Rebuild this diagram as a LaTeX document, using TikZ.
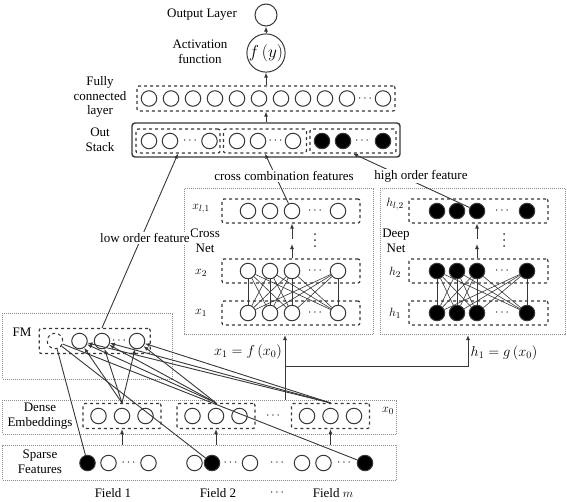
\documentclass[tikz,border=0pt]{standalone}
\usepackage{fontspec}
\setmainfont{Liberation Serif}
\usetikzlibrary{arrows.meta,positioning}
\definecolor{linegray}{RGB}{55,55,55}
\definecolor{bandgray}{RGB}{140,140,140}

\begin{document}
\begin{tikzpicture}[x=1pt, y=-1pt, font=\fontsize{13}{14.5}\selectfont,
        neuron/.style={draw=linegray, line width=1pt, circle, minimum size=15.5pt, inner sep=0pt},
        fneuron/.style={neuron, fill=black},
        layerbox/.style={draw=linegray, line width=1.2pt, dashed, rounded corners=2pt, inner sep=0pt},
        band/.style={draw=bandgray, densely dotted, line width=1pt, inner sep=0pt},
        link/.style={draw=linegray, line width=0.9pt},
        thinlink/.style={draw=linegray, line width=0.6pt},
        arr/.style={link, -{Latex[length=5pt,width=4pt]}}
    ]
        \useasboundingbox (0,0) rectangle (567,501);

        % 1. Output and activation
        \node[neuron, minimum size=22pt] (outy) at (266,15) {};
        \node (outlbl) at (202,15) {Output Layer};
        \node[neuron, minimum size=34pt, font=\fontsize{16}{18}\selectfont] (act) at (266,53) {$f\left(y\right)$};
        \node[align=center] (actlbl) at (200,52) {Activation\\function};
        \draw[arr] (act) -- (outy);

        % 2. Fully connected layer
        \node[layerbox, minimum width=258pt, minimum height=25pt] (fc) at (266,98.5) {};
        \foreach \x [count=\i] in {149,171,193,215,237,259,281,303,325,347,383}
            \node[neuron] (fc-\i) at (\x,98.5) {};
        \node (fc-dots) at (365,98.5) {$\cdots$};
        \node[align=center] (fclbl) at (100,97) {Fully\\connected\\layer};
        \draw[arr] (fc) -- (act);

        % 3. Out stack
        \node[draw=linegray, line width=1.4pt, rounded corners=3pt, minimum width=268pt, minimum height=34pt] (outstack) at (266,140) {};
        \node[align=center] (oslbl) at (100,140) {Out\\Stack};
        \node[layerbox, minimum width=84pt, minimum height=24pt] (os1) at (178,141) {};
        \node[layerbox, minimum width=83pt, minimum height=24pt] (os2) at (265,141) {};
        \node[layerbox, minimum width=86pt, minimum height=24pt] (os3) at (353,141) {};
        \foreach \x [count=\i] in {149,170,209.5}
            \node[neuron] (osa-\i) at (\x,141) {};
        \foreach \x [count=\i] in {237,258,293}
            \node[neuron] (osb-\i) at (\x,141) {};
        \foreach \x [count=\i] in {322,343,383}
            \node[fneuron] (osc-\i) at (\x,141) {};
        \node (osa-dots) at (190,141) {$\cdots$};
        \node (osb-dots) at (275.5,141) {$\cdots$};
        \node (osc-dots) at (362,141) {$\cdots$};
        \draw[arr] (outstack) -- (fc);

        % 4. Cross net
        \node[band, minimum width=189.5pt, minimum height=146.5pt] (crossnet) at (278.75,261.25) {};
        \node[layerbox, minimum width=138pt, minimum height=24pt] (xlrow) at (291,211) {};
        \node[layerbox, minimum width=138pt, minimum height=24pt] (xbrow) at (291,271) {};
        \node[layerbox, minimum width=138pt, minimum height=24pt] (xarow) at (291,313) {};
        \foreach \x [count=\i] in {248,270,292,338} {
            \node[neuron] (xl-\i) at (\x,211) {};
            \node[neuron] (xb-\i) at (\x,271) {};
            \node[neuron] (xa-\i) at (\x,313) {};
        }
        \node (xl-dots) at (315,211) {$\cdots$};
        \node (xb-dots) at (315,271) {$\cdots$};
        \node (xa-dots) at (315,313) {$\cdots$};
        \foreach \y in {234,240,246}
            \fill[linegray] (315,\y) circle (1pt);
        \node (xllbl) at (201,209) {$x_{l,1}$};
        \node[align=center] (crosslbl) at (205,241) {Cross\\Net};
        \node (xblbl) at (201,273) {$x_2$};
        \node (xalbl) at (201,313) {$x_1$};
        \foreach \i in {1,...,4}
            \foreach \j in {1,...,4}
                \draw[thinlink] (xa-\i) -- (xb-\j);
        \coordinate (xmidlo) at (292,244);
        \coordinate (xmidhi) at (292,238.5);
        \draw[arr] (xbrow.north -| xb-3) -- (xmidlo);
        \draw[arr] (xmidhi) -- (xlrow.south -| xl-3);

        % 5. Deep net
        \node[band, minimum width=185pt, minimum height=146.5pt] (deepnet) at (472.5,261.25) {};
        \node[layerbox, minimum width=139pt, minimum height=24pt] (hlrow) at (478.5,211) {};
        \node[layerbox, minimum width=139pt, minimum height=24pt] (hbrow) at (478.5,271) {};
        \node[layerbox, minimum width=139pt, minimum height=24pt] (harow) at (478.5,313) {};
        \foreach \x [count=\i] in {437,457,477,527} {
            \node[fneuron] (hl-\i) at (\x,211) {};
            \node[fneuron] (hb-\i) at (\x,271) {};
            \node[fneuron] (ha-\i) at (\x,313) {};
        }
        \node (hl-dots) at (502,211) {$\cdots$};
        \node (hb-dots) at (502,271) {$\cdots$};
        \node (ha-dots) at (502,313) {$\cdots$};
        \foreach \y in {234,240,246}
            \fill[linegray] (504,\y) circle (1pt);
        \node (hllbl) at (395,204) {$h_{l,2}$};
        \node[align=center] (deeplbl) at (396,241) {Deep\\Net};
        \node (hblbl) at (395,272) {$h_2$};
        \node (halbl) at (395,313) {$h_1$};
        \foreach \i in {1,...,4}
            \foreach \j in {1,...,4}
                \draw[thinlink] (ha-\i) -- (hb-\j);
        \coordinate (hmidlo) at (477,244);
        \coordinate (hmidhi) at (477,238.5);
        \draw[arr] (hbrow.north -| hb-3) -- (hmidlo);
        \draw[arr] (hmidhi) -- (hlrow.south -| hl-3);

        % 6. FM
        \node[band, minimum width=170pt, minimum height=66pt] (fmband) at (87.7,346) {};
        \node (fmlbl) at (22,332) {FM};
        \node[layerbox, minimum width=111pt, minimum height=25pt] (fmbox) at (94.7,341) {};
        \node[neuron, dashed] (fm-1) at (55,341) {};
        \foreach \x [count=\i from 2] in {79.5,102,137}
            \node[neuron] (fm-\i) at (\x,341) {};
        \node (fm-dots) at (119,341) {$\cdots$};

        % 7. Dense embeddings
        \node[band, minimum width=394pt, minimum height=34pt] (denseband) at (199.7,417) {};
        \node[align=center] (denselbl) at (40,416) {Dense\\Embeddings};
        \foreach \c [count=\g] in {122,216,330.5} {
            \node[layerbox, minimum width=78pt, minimum height=25pt] (gbox\g) at (\c,416) {};
            \node[neuron] (g\g-1) at (\c-23.5,416) {};
            \node[neuron] (g\g-2) at (\c,416) {};
            \node[neuron] (g\g-3) at (\c+23.5,416) {};
        }
        \node (gdots) at (273,416) {$\cdots$};
        \node (xzerolbl) at (388,411) {$x_0$};

        % 8. Sparse features
        \node[band, minimum width=394pt, minimum height=35pt] (sparseband) at (199.7,462.5) {};
        \node[align=center] (sparselbl) at (40,462) {Sparse\\Features};
        \node[fneuron] (sa-1) at (87.5,463) {};
        \node[neuron] (sa-2) at (108.5,463) {};
        \node[neuron] (sa-4) at (148.5,463) {};
        \node (sa-dots) at (128.5,463) {$\cdots$};
        \node[neuron] (sb-1) at (194.5,463) {};
        \node[fneuron] (sb-2) at (212,463) {};
        \node[neuron] (sb-4) at (250,463) {};
        \node (sb-dots) at (230.5,463) {$\cdots$};
        \node (sdots) at (277,463) {$\cdots$};
        \node[neuron] (sc-1) at (302,463) {};
        \node[neuron] (sc-2) at (323.5,463) {};
        \node[fneuron] (sc-4) at (365,463) {};
        \node (sc-dots) at (344,463) {$\cdots$};
        \node (field1) at (113,493) {Field 1};
        \node (field2) at (218,493) {Field 2};
        \node (fielddots) at (277,493) {$\cdots$};
        \node (fieldm) at (333,493) {Field $m$};
        \foreach \g in {1,2,3}
            \draw[arr] (sparseband.north -| gbox\g) -- (gbox\g.south);

        % FM connections
        \draw[link] (fm-1) -- (sa-1);
        \draw[link] (fm-1) -- (sb-2);
        \draw[link] (fm-1) -- (sc-4);
        \foreach \g in {1,2,3}
            \foreach \f in {2,3,4}
                \draw[arr] (gbox\g.north) -- (fm-\f);

        % Inputs of the two nets
        \coordinate (split) at (285,366.5);
        \coordinate (deepin) at (468,366.5);
        \draw[link] (denseband.north -| split) -- (split);
        \draw[arr] (split) -- (crossnet.south -| split);
        \draw[arr] (split) -- (deepin) -- (deepnet.south -| deepin);
        \node[font=\fontsize{14.5}{16}\selectfont] (fxlbl) at (248,352) {$x_1 = f\left(x_0\right)$};
        \node[font=\fontsize{14.5}{16}\selectfont] (gxlbl) at (504,353) {$h_1 = g\left(x_0\right)$};

        % Features into the out stack
        \draw[arr] (fmbox.north -| fm-3) -- (os1.south);
        \draw[arr] (xl-3) -- (os2.south);
        \draw[arr] (hl-3) -- (os3.south);
        \node[fill=white, inner sep=1pt] (lowlbl) at (145,238) {low order feature};
        \node[fill=white, inner sep=1pt] (crosslbl2) at (284,176) {cross combination features};
        \node[fill=white, inner sep=1pt] (highlbl) at (421,176) {high order feature};

    \end{tikzpicture}
\end{document}
